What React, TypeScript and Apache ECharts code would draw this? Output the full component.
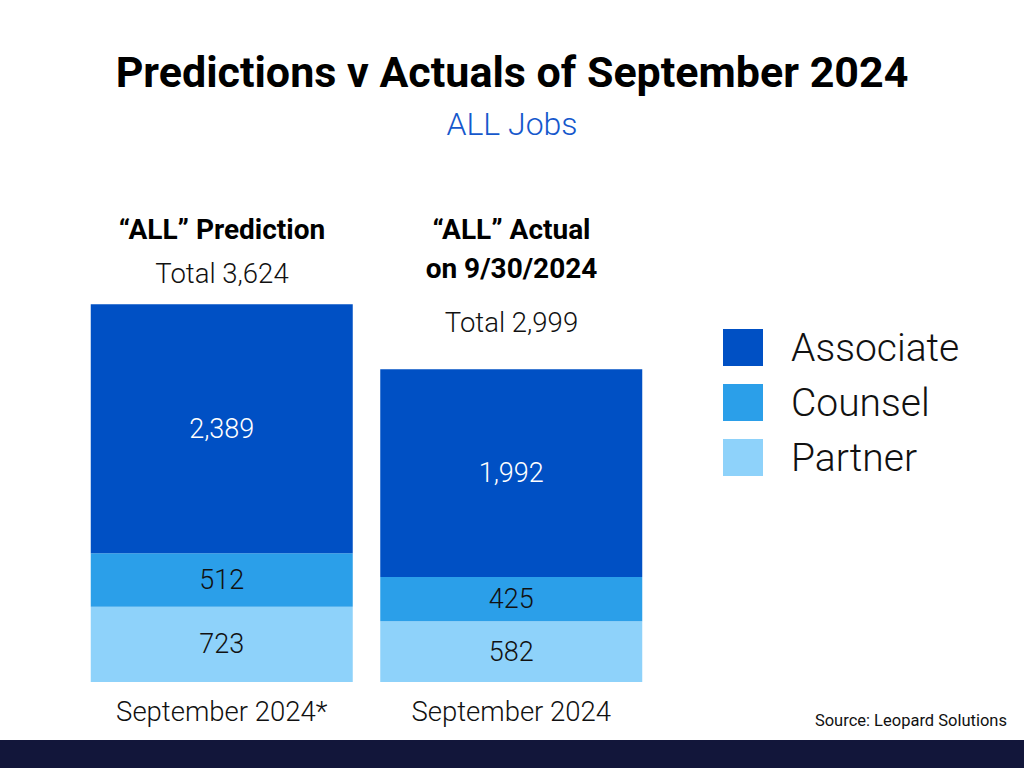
import React, { useEffect, useRef } from "react";
import * as echarts from "echarts";

const categories = ["September 2024*", "September 2024"];
const seriesNames = ["Partner", "Counsel", "Associate"];
const partner = [723, 582];
const counsel = [512, 425];
const associate = [2389, 1992];
const headings = [["“ALL” Prediction"], ["“ALL” Actual", "on 9/30/2024"]];
const colors = { Associate: "#0050c4", Counsel: "#2b9fe9", Partner: "#8ed2fa" };

const FONT = "Roboto, 'Noto Sans', sans-serif";

export default function App() {
  const ref = useRef<HTMLDivElement>(null);
  useEffect(() => {
    if (!ref.current) return;
    const chart = echarts.init(ref.current, undefined, { renderer: "svg" });
    const totals = categories.map((_, i) => partner[i] + counsel[i] + associate[i]);
    const fmt = (v: number) => v.toLocaleString("en-US");
    const values: Record<string, number[]> = { Partner: partner, Counsel: counsel, Associate: associate };

    const centers = [222, 511.5];
    const graphics: any[] = [
      {
        type: "rect",
        shape: { x: 0, y: 740, width: 1024, height: 28 },
        style: { fill: "#12163a" },
        silent: true,
      },
      {
        type: "text",
        x: 512, y: 72,
        style: { text: "Predictions v Actuals of September 2024", font: `bold 43px ${FONT}`, fill: "#000", align: "center", verticalAlign: "middle" },
      },
      {
        type: "text",
        x: 512, y: 124,
        style: { text: "ALL Jobs", font: `300 32px ${FONT}`, fill: "#1558cc", align: "center", verticalAlign: "middle" },
      },
      {
        type: "text",
        x: 1007, y: 720,
        style: { text: "Source: Leopard Solutions", font: `400 16.5px ${FONT}`, fill: "#111", align: "right", verticalAlign: "middle" },
      },
    ];
    const headingY = [[229], [229, 268]];
    const totalY = [273, 322];
    categories.forEach((_, i) => {
      headings[i].forEach((line, j) => {
        graphics.push({
          type: "text",
          x: centers[i], y: headingY[i][j],
          style: { text: line, font: `bold 28px ${FONT}`, fill: "#000", align: "center", verticalAlign: "middle" },
        });
      });
      graphics.push({
        type: "text",
        x: centers[i], y: totalY[i],
        style: { text: `Total ${fmt(totals[i])}`, font: `300 27.5px ${FONT}`, fill: "#111", align: "center", verticalAlign: "middle" },
      });
    });

    chart.setOption({
      animation: false,
      backgroundColor: "#ffffff",
      textStyle: { fontFamily: FONT },
      grid: { left: 77, right: 368, top: 265, bottom: 86, containLabel: false },
      xAxis: {
        type: "category",
        data: categories,
        axisLine: { show: false },
        axisTick: { show: false },
        axisLabel: { fontSize: 27.5, fontWeight: 300, color: "#111", margin: 15, fontFamily: FONT },
      },
      yAxis: {
        type: "value",
        min: 0,
        max: 4000,
        show: false,
        splitLine: { show: false },
      },
      legend: {
        orient: "vertical",
        left: 723,
        top: 328,
        padding: 0,
        itemWidth: 40,
        itemHeight: 37,
        itemGap: 16,
        icon: "rect",
        data: ["Associate", "Counsel", "Partner"],
        textStyle: { fontSize: 39, fontWeight: 300, color: "#111", fontFamily: FONT, padding: [0, 0, 0, 23], lineHeight: 37 },
        selectedMode: false,
      },
      series: seriesNames.map((name) => ({
        name,
        type: "bar",
        stack: "total",
        barWidth: 262,
        data: values[name],
        itemStyle: { color: (colors as any)[name] },
        label: {
          show: true,
          position: "inside",
          formatter: (p: any) => fmt(p.value),
          fontSize: 27,
          fontWeight: 300,
          fontFamily: FONT,
          color: name === "Associate" ? "#ffffff" : "#111",
          textBorderWidth: 0,
        },
        emphasis: { disabled: true },
      })),
      graphic: graphics,
    });
    return () => chart.dispose();
  }, []);
  return (
    <div style={{ position: "fixed", left: 0, top: 0, width: 1024, height: 768 }}>
      <div ref={ref} style={{ width: 1024, height: 768 }} />
    </div>
  );
}
